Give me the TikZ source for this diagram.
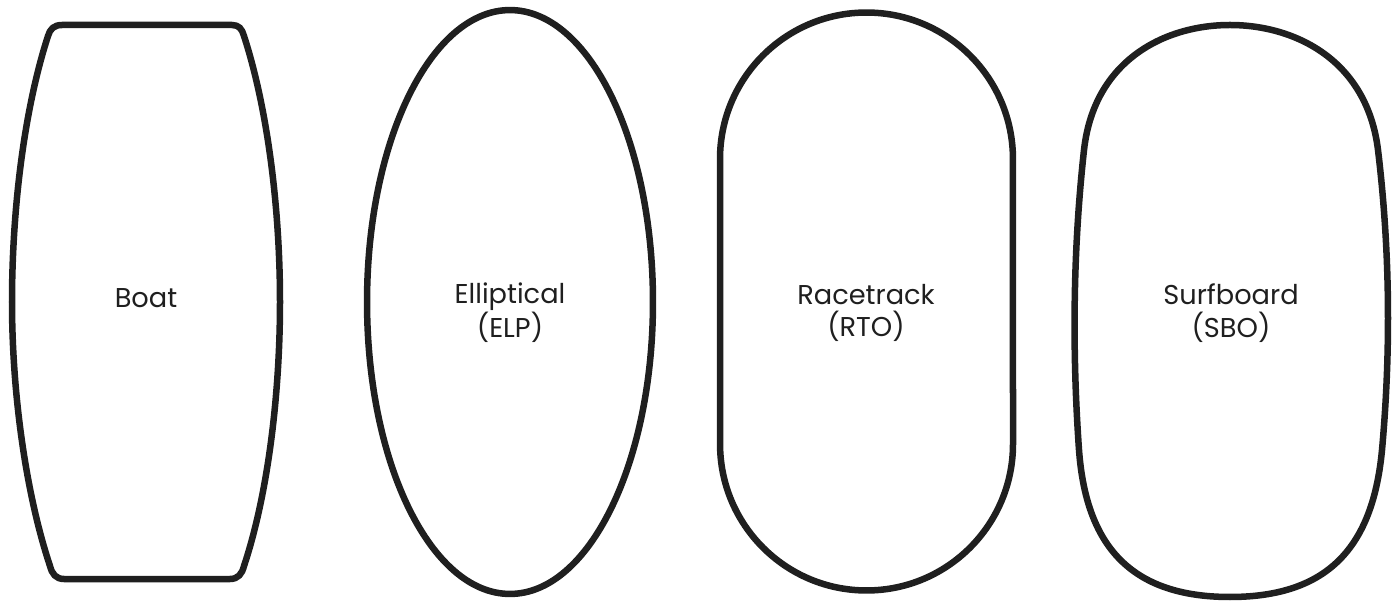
\documentclass[tikz,border=0pt]{standalone}
\usepackage{fontspec}
\setmainfont{Poppins}
\usepackage{tikz}
\usetikzlibrary{positioning}

\begin{document}
\begin{tikzpicture}[
        x=0.02cm, y=-0.02cm,
        outline/.style={line width=3.7pt, draw=black!88, line join=round},
        label/.style={align=center, font=\fontsize{15.5}{18.5}\selectfont, text=black!88}
    ]
        \useasboundingbox (0,0) rectangle (1400,604);

        \draw[outline] (62,25) -- (232,25)
            .. controls (239,25) and (242,29) .. (244,36)
            .. controls (268,110) and (280,210) .. (280,302)
            .. controls (280,394) and (268,494) .. (244,566)
            .. controls (242,574) and (238,579) .. (230,579)
            -- (64,579)
            .. controls (56,579) and (52,574) .. (50,566)
            .. controls (26,494) and (12,394) .. (12,302)
            .. controls (12,210) and (24,110) .. (48,36)
            .. controls (50,29) and (54,25) .. (62,25) -- cycle;

        \draw[outline] (510,302) ellipse [x radius=2.86cm, y radius=5.84cm];

        \draw[outline] (720,159) arc [start angle=180, end angle=0, radius=2.93cm]
            -- (1013,444) arc [start angle=0, end angle=-180, radius=2.93cm] -- cycle;

        \draw[outline] (1084,150)
            .. controls (1094,60) and (1165,25) .. (1230,25)
            .. controls (1295,25) and (1367,60) .. (1378,150)
            .. controls (1390,250) and (1391,350) .. (1382,450)
            .. controls (1373,545) and (1330,597) .. (1230,597)
            .. controls (1130,597) and (1086,545) .. (1079,450)
            .. controls (1072,350) and (1073,250) .. (1084,150) -- cycle;

        \node[label] (boat) at (146,298) {Boat};
        \node[label] (elp) at (510,313) {Elliptical\\(ELP)};
        \node[label] (rto) at (866,313) {Racetrack\\(RTO)};
        \node[label] (sbo) at (1231,313) {Surfboard\\(SBO)};
    \end{tikzpicture}
\end{document}
